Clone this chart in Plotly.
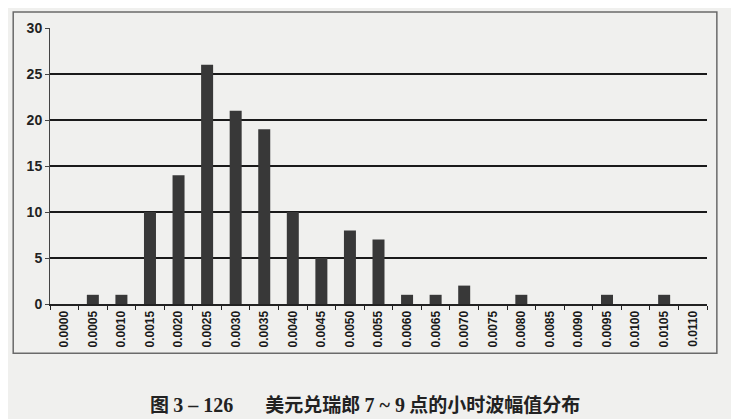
import plotly.graph_objects as go

# hourly range buckets (USD/CHF, 7-9 o'clock) and their counts
buckets = ["0.0000", "0.0005", "0.0010", "0.0015", "0.0020", "0.0025", "0.0030",
           "0.0035", "0.0040", "0.0045", "0.0050", "0.0055", "0.0060", "0.0065",
           "0.0070", "0.0075", "0.0080", "0.0085", "0.0090", "0.0095", "0.0100",
           "0.0105", "0.0110"]
counts = [0, 1, 1, 10, 14, 26, 21, 19, 10, 5, 8, 7, 1, 1, 2, 0, 1, 0, 0, 1, 0, 1, 0]

y_ticks = [0, 5, 10, 15, 20, 25, 30]
grid_levels = [5, 10, 15, 20, 25]

serif = "font-family:'Liberation Serif';font-size:20px"
caption = ("<b>图 <span style=\"" + serif + "\">3 – 126</span>" + "\u3000   美元兑瑞郎 "
           "<span style=\"" + serif + "\">7 ~ 9</span> 点的小时波幅值分布</b>")

fig = go.Figure()
fig.add_trace(go.Bar(x=buckets, y=counts, marker=dict(color="#383838", line=dict(width=0))))

# black horizontal grid lines
for g in grid_levels:
    fig.add_shape(type="line", xref="paper", yref="y", x0=0, x1=1, y0=g, y1=g,
                  line=dict(color="#1a1a1a", width=2), layer="below")

# outer frame around the chart
fig.add_shape(type="rect", xref="paper", yref="paper", x0=-0.056, x1=1.015, y0=-0.178, y1=1.058,
              line=dict(color="#6a6a6a", width=1.5))

fig.add_annotation(text=caption, xref="paper", yref="paper",
                   x=0.479, y=-0.36, showarrow=False, xanchor="center", yanchor="middle",
                   font=dict(family="Noto Sans CJK SC", size=19, color="#222"))

# page has an 8px body margin, so the figure is made a bit smaller
fig.update_layout(
    width=731, height=411,
    margin=dict(l=42, r=32, t=20, b=115),
    paper_bgcolor="#f0f0ee", plot_bgcolor="#f0f0ee",
    bargap=0.58, showlegend=False,
    font=dict(family="Liberation Sans", color="#222"),
)
fig.update_xaxes(type="category", tickangle=-90, showgrid=False, showline=True,
                 linecolor="#222", linewidth=2, ticks="outside", ticklen=4,
                 tickcolor="#222", tickson="boundaries",
                 tickvals=buckets, ticktext=["<b>" + b + "</b>" for b in buckets],
                 tickfont=dict(size=12, family="Liberation Sans", color="#1a1a1a"))
fig.update_yaxes(range=[0, 30], tickvals=y_ticks, showgrid=False, zeroline=False,
                 showline=True, linecolor="#444", linewidth=1, ticks="outside", ticklen=4,
                 tickcolor="#444", tickfont=dict(size=14, family="Liberation Sans", weight="bold"))

fig.write_html("out.html")
